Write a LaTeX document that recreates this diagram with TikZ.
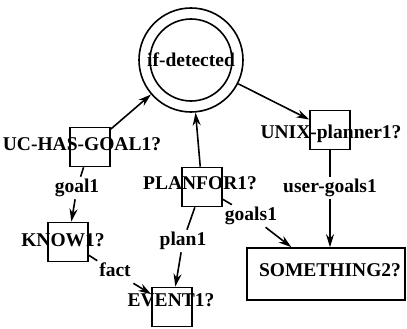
\documentclass[tikz,border=0pt]{standalone}
\usepackage{fontspec}
\setmainfont{Liberation Serif}
\usetikzlibrary{arrows.meta}
\def\outr{52pt}
\def\inr{41pt}

\begin{document}
\begin{tikzpicture}[x=1pt, y=-1pt, line width=1.6pt,
  font=\fontsize{19.5}{21}\selectfont\bfseries,
  qbox/.style={draw, minimum width=40pt, minimum height=39pt, inner sep=0pt},
  qtext/.style={text height=13pt, text depth=0pt, inner sep=0pt},
  elab/.style={text height=13pt, text depth=4pt, inner sep=2pt},
  arc/.style={-{Stealth[length=13pt, width=8pt]}}]
\useasboundingbox (0,0) rectangle (407,329);

\node[draw, circle, minimum size=2*\outr, inner sep=0pt] (det) at (191,60) {if-detected};
\draw (det.center) circle (\inr);

\node[qbox] (uc) at (90,147) {};
\node[qbox] (plan) at (202,187) {};
\node[qbox] (unix) at (330,130) {};
\node[qbox] (know) at (68,242) {};
\node[qbox] (ev) at (172,307) {};
\node[draw, minimum width=158pt, minimum height=52pt, inner sep=0pt] (some) at (326,274) {};

\node[qtext] (uct) at (82,144) {UC-HAS-GOAL1?};
\node[qtext] (plant) at (200,183) {PLANFOR1?};
\node[qtext] (unixt) at (331,132) {UNIX-planner1?};
\node[qtext] (knowt) at (63,240) {KNOW1?};
\node[qtext] (evt) at (171,300) {EVENT1?};
\node[qtext] (somet) at (330,270) {SOMETHING2?};

\node[elab] (goal1) at (77,188) {goal1};
\node[elab] (plan1) at (183,241) {plan1};
\node[elab] (goals1) at (251,216) {goals1};
\node[elab] (fact) at (115,272) {fact};
\node[elab] (ugoals) at (330,188) {user-goals1};

\draw[arc] (uc) -- (det);
\draw[arc] (plan) -- (det);
\draw[arc] (det) -- (unix);
\draw (uc) -- (goal1);
\draw[arc] (goal1) -- (know);
\draw (plan) -- (plan1);
\draw[arc] (plan1) -- (ev);
\draw (plan) -- (goals1);
\draw[arc] (goals1) -- (some);
\draw (know) -- (fact);
\draw[arc] (fact) -- (ev);
\draw (unix) -- (ugoals);
\draw[arc] (ugoals) -- (ugoals |- some.north);
\end{tikzpicture}
\end{document}
